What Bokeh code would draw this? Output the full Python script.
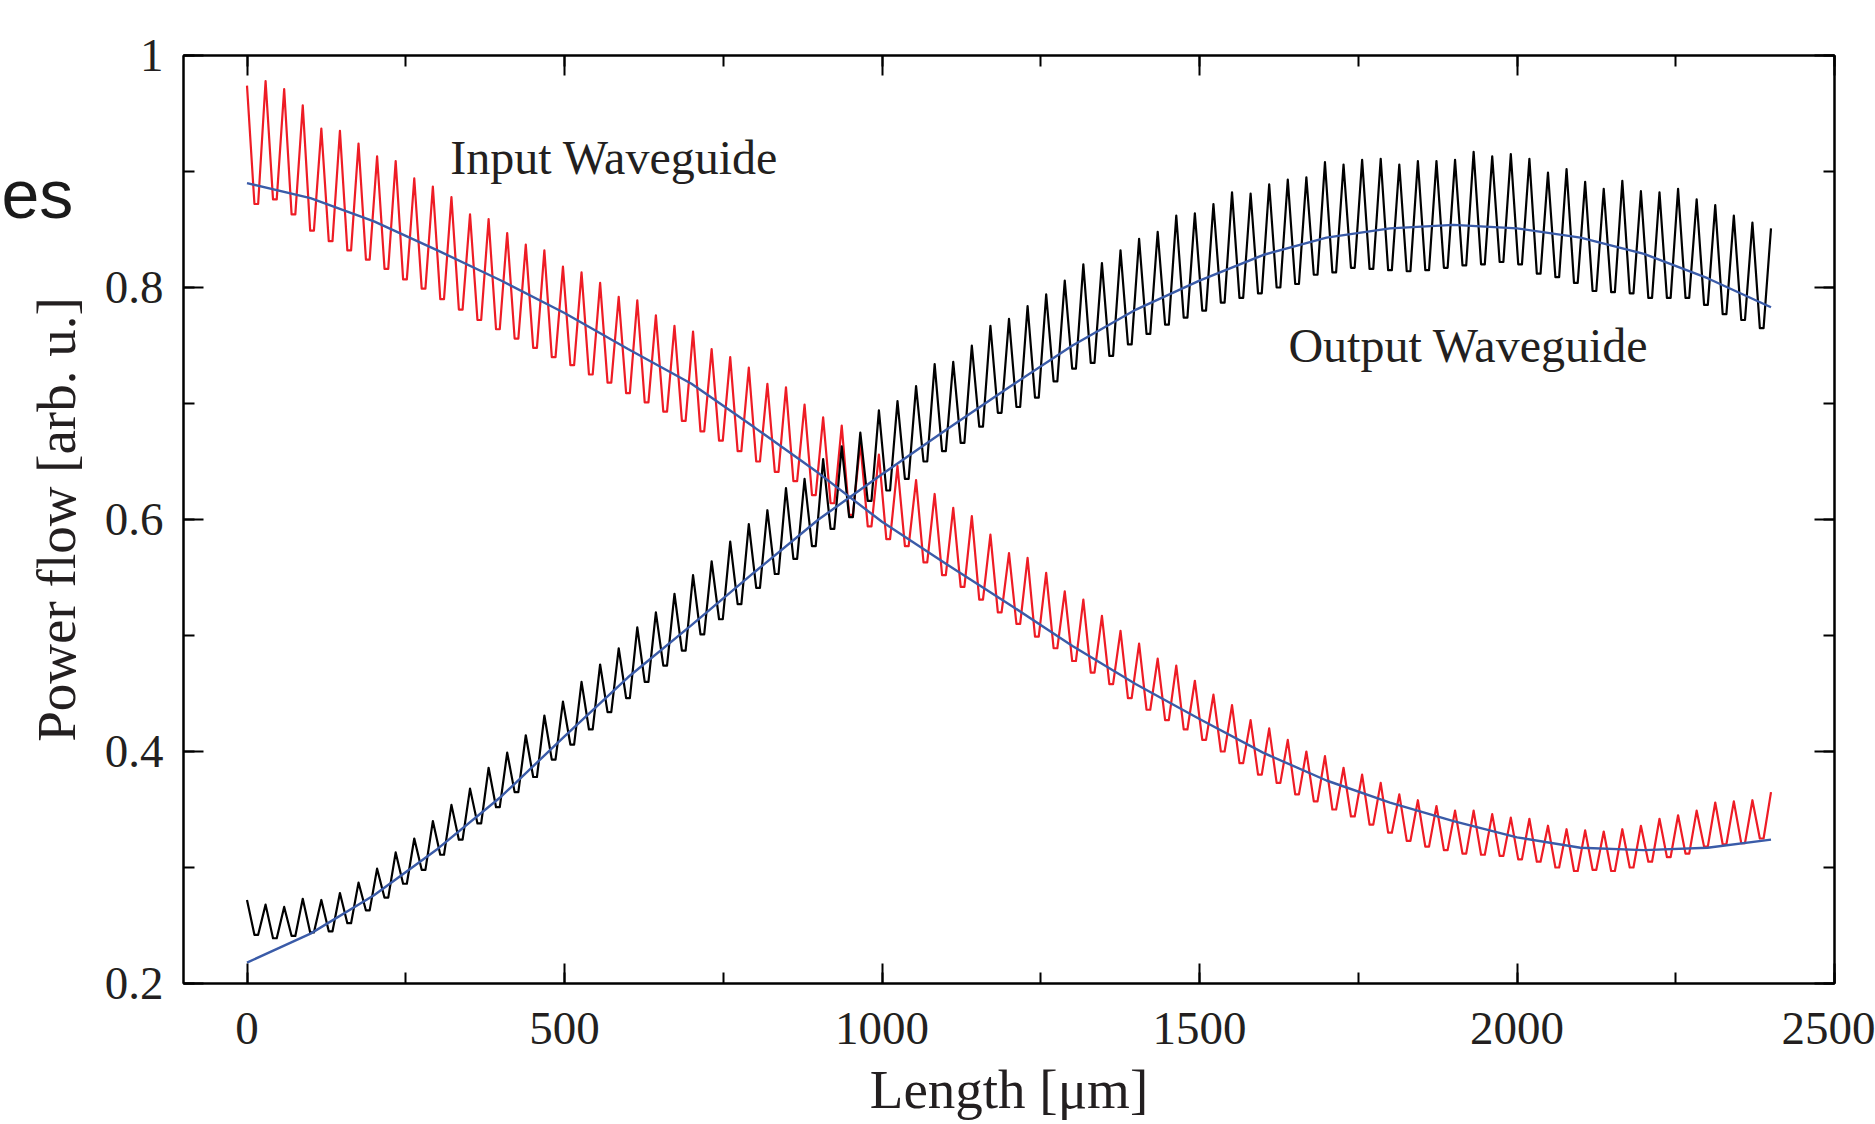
import numpy as np
from bokeh.plotting import figure
from bokeh.layouts import row
from bokeh.models import (Range1d, LinearAxis, SingleIntervalTicker,
                          CustomJSTickFormatter, Label)
from bokeh.embed import file_html
from bokeh.resources import INLINE

# ---------------- data ----------------
# oscillating curves: peak values (83 peaks evenly spread over 0..2400 um)
# and trough values (82 troughs between consecutive peaks)
red_peak = [0.974, 0.978, 0.971, 0.957, 0.937, 0.935, 0.924, 0.913, 0.909, 0.894,
            0.887, 0.878, 0.863, 0.859, 0.847, 0.837, 0.832, 0.818, 0.813, 0.804,
            0.792, 0.789, 0.776, 0.767, 0.762, 0.747, 0.740, 0.731, 0.717, 0.714,
            0.699, 0.688, 0.681, 0.666, 0.656, 0.646, 0.634, 0.622, 0.610, 0.603,
            0.587, 0.571, 0.567, 0.554, 0.538, 0.531, 0.517, 0.504, 0.493, 0.480,
            0.474, 0.461, 0.449, 0.440, 0.427, 0.420, 0.410, 0.400, 0.396, 0.386,
            0.380, 0.373, 0.363, 0.358, 0.353, 0.349, 0.349, 0.346, 0.343, 0.342,
            0.336, 0.333, 0.332, 0.331, 0.333, 0.336, 0.342, 0.345, 0.349, 0.356,
            0.357, 0.358, 0.365]
red_trough = [0.872, 0.876, 0.863, 0.849, 0.840, 0.832, 0.824, 0.816, 0.807, 0.799,
              0.790, 0.781, 0.772, 0.764, 0.756, 0.748, 0.740, 0.733, 0.725, 0.718,
              0.709, 0.701, 0.693, 0.685, 0.676, 0.668, 0.659, 0.650, 0.641, 0.633,
              0.621, 0.614, 0.604, 0.594, 0.583, 0.577, 0.563, 0.552, 0.542, 0.531,
              0.520, 0.510, 0.499, 0.489, 0.478, 0.468, 0.458, 0.446, 0.436, 0.427,
              0.419, 0.410, 0.400, 0.390, 0.380, 0.373, 0.363, 0.357, 0.350, 0.344,
              0.337, 0.330, 0.323, 0.318, 0.315, 0.312, 0.311, 0.310, 0.307, 0.305,
              0.300, 0.297, 0.298, 0.297, 0.300, 0.305, 0.309, 0.312, 0.318, 0.320,
              0.321, 0.325]
black_peak = [0.272, 0.268, 0.266, 0.273, 0.272, 0.278, 0.287, 0.299, 0.313, 0.325,
              0.340, 0.354, 0.368, 0.386, 0.399, 0.414, 0.431, 0.443, 0.460, 0.475,
              0.489, 0.507, 0.520, 0.536, 0.552, 0.564, 0.581, 0.596, 0.608, 0.627,
              0.635, 0.652, 0.663, 0.675, 0.694, 0.702, 0.715, 0.734, 0.736, 0.750,
              0.767, 0.773, 0.784, 0.794, 0.806, 0.820, 0.821, 0.832, 0.842, 0.848,
              0.862, 0.864, 0.872, 0.882, 0.881, 0.889, 0.893, 0.895, 0.908, 0.906,
              0.910, 0.911, 0.906, 0.909, 0.909, 0.910, 0.917, 0.913, 0.915, 0.911,
              0.899, 0.902, 0.891, 0.885, 0.892, 0.883, 0.882, 0.885, 0.876, 0.871,
              0.862, 0.856, 0.851]
black_trough = [0.242, 0.239, 0.241, 0.244, 0.245, 0.252, 0.263, 0.274, 0.286, 0.298,
                0.311, 0.324, 0.338, 0.352, 0.365, 0.378, 0.393, 0.406, 0.419, 0.434,
                0.446, 0.460, 0.474, 0.487, 0.501, 0.514, 0.527, 0.541, 0.553, 0.566,
                0.577, 0.592, 0.602, 0.616, 0.625, 0.635, 0.650, 0.659, 0.666, 0.680,
                0.692, 0.697, 0.705, 0.719, 0.730, 0.735, 0.741, 0.751, 0.760, 0.768,
                0.774, 0.780, 0.787, 0.791, 0.795, 0.800, 0.803, 0.811, 0.813, 0.817,
                0.816, 0.815, 0.814, 0.815, 0.817, 0.819, 0.820, 0.822, 0.820, 0.812,
                0.809, 0.804, 0.797, 0.796, 0.795, 0.791, 0.791, 0.791, 0.785, 0.777,
                0.772, 0.765]

# smooth (blue) curves
blue_x = [0, 100, 200, 300, 400, 500, 600, 700, 800, 900, 1000, 1100, 1200,
          1300, 1400, 1500, 1600, 1700, 1800, 1900, 2000, 2100, 2200, 2300, 2400]
blue_input = [0.890, 0.877, 0.857, 0.832, 0.806, 0.778, 0.747, 0.717, 0.679, 0.640,
              0.598, 0.562, 0.527, 0.491, 0.458, 0.428, 0.399, 0.375, 0.356, 0.340,
              0.326, 0.317, 0.315, 0.317, 0.324]
blue_output = [0.218, 0.243, 0.276, 0.316, 0.361, 0.413, 0.464, 0.509, 0.555, 0.600,
               0.639, 0.677, 0.714, 0.750, 0.781, 0.806, 0.828, 0.843, 0.851, 0.854,
               0.851, 0.843, 0.829, 0.808, 0.783]

length_start, length_end = 0, 2400

# ---------------- paths through the read extrema ----------------
# each trough is drawn as a short flat bottom (the curve is rounded at its
# minima and spiky at its maxima)
n_peaks = len(red_peak)
x_peak = np.linspace(length_start, length_end, n_peaks)
period = x_peak[1] - x_peak[0]
x_trough = (x_peak[:-1] + x_peak[1:]) / 2.0
half_bottom = 0.1 * period


def through_extrema(peaks, troughs):
    xs, ys = [x_peak[0]], [peaks[0]]
    for i in range(len(troughs)):
        xs += [x_trough[i] - half_bottom, x_trough[i] + half_bottom, x_peak[i + 1]]
        ys += [troughs[i], troughs[i], peaks[i + 1]]
    return xs, ys


rx, ry = through_extrema(red_peak, red_trough)
bx, by = through_extrema(black_peak, black_trough)

# ---------------- figure ----------------
FONT = "Liberation Serif"
TXT = "#231f20"
W, H = 1875, 1124
ES_W = 78

p = figure(width=W, height=H, output_backend="svg", toolbar_location=None,
           x_range=Range1d(-100, 2500), y_range=Range1d(0.2, 1.0),
           min_border_left=183, min_border_right=41, min_border_top=55,
           min_border_bottom=141, background_fill_color="white",
           border_fill_alpha=0.0)
p.margin = (0, 0, 0, -ES_W)
p.grid.visible = False
p.outline_line_color = "black"
p.outline_line_width = 2

xt = SingleIntervalTicker(interval=500, num_minor_ticks=2)
yt = SingleIntervalTicker(interval=0.2, num_minor_ticks=2)
yfmt = CustomJSTickFormatter(code="return String(Math.round(tick*10)/10);")


def style_axis(ax):
    ax.axis_line_color = "black"
    ax.axis_line_width = 2
    ax.major_tick_line_color = "black"
    ax.major_tick_line_width = 2
    ax.minor_tick_line_color = "black"
    ax.minor_tick_line_width = 2
    ax.major_tick_in = 20
    ax.major_tick_out = 0
    ax.minor_tick_in = 11
    ax.minor_tick_out = 0
    ax.major_label_text_font = FONT
    ax.major_label_text_font_size = "47px"
    ax.major_label_text_color = TXT
    ax.axis_label_text_font = FONT
    ax.axis_label_text_font_size = "55px"
    ax.axis_label_text_font_style = "normal"
    ax.axis_label_text_color = TXT


xa = p.xaxis[0]
xa.ticker = xt
style_axis(xa)
xa.axis_label = "Length [μm]"
xa.major_label_standoff = 29
xa.axis_label_standoff = 12

ya = p.yaxis[0]
ya.ticker = yt
ya.formatter = yfmt
style_axis(ya)
ya.axis_label = "Power flow [arb. u.]"
ya.major_label_standoff = 20
ya.axis_label_standoff = 15

empty = CustomJSTickFormatter(code="return '';")
top = LinearAxis(ticker=SingleIntervalTicker(interval=500, num_minor_ticks=2),
                 formatter=empty)
style_axis(top)
top.major_label_text_font_size = "0px"
top.major_label_standoff = 0
p.add_layout(top, "above")

right = LinearAxis(ticker=SingleIntervalTicker(interval=0.2, num_minor_ticks=2),
                   formatter=empty)
style_axis(right)
right.major_label_text_font_size = "0px"
right.major_label_standoff = 0
p.add_layout(right, "right")

# ---------------- curves ----------------
p.line(rx, ry, line_color="#ee1c25", line_width=2.2, line_join="round")
p.line(bx, by, line_color="#000000", line_width=2.2, line_join="round")
p.line(blue_x, blue_input, line_color="#3a5ba8", line_width=2.4)
p.line(blue_x, blue_output, line_color="#3a5ba8", line_width=2.4)

# ---------------- annotations ----------------
p.add_layout(Label(x=320, y=0.912, text="Input Waveguide", text_font=FONT,
                   text_font_size="48px", text_color=TXT,
                   text_baseline="alphabetic", text_align="left"))
p.add_layout(Label(x=1640, y=0.750, text="Output Waveguide", text_font=FONT,
                   text_font_size="48px", text_color=TXT,
                   text_baseline="alphabetic", text_align="left"))

# fragment of a neighbouring panel's title at the far left (own small canvas,
# lying under the transparent margin of the main figure)
es = figure(width=ES_W, height=H, output_backend="svg", toolbar_location=None,
            x_range=Range1d(0, ES_W), y_range=Range1d(0, H),
            x_axis_type=None, y_axis_type=None, min_border=0,
            outline_line_color=None, background_fill_color="white",
            border_fill_color="white")
es.grid.visible = False
es.add_layout(Label(x=1, y=H - 168, text="es", text_font="Liberation Sans",
                    text_font_size="68px", text_color="#1a1a1a",
                    text_baseline="alphabetic", text_align="left"))

layout = row(es, p, spacing=0)
open("out.html", "w").write(file_html(layout, INLINE))
